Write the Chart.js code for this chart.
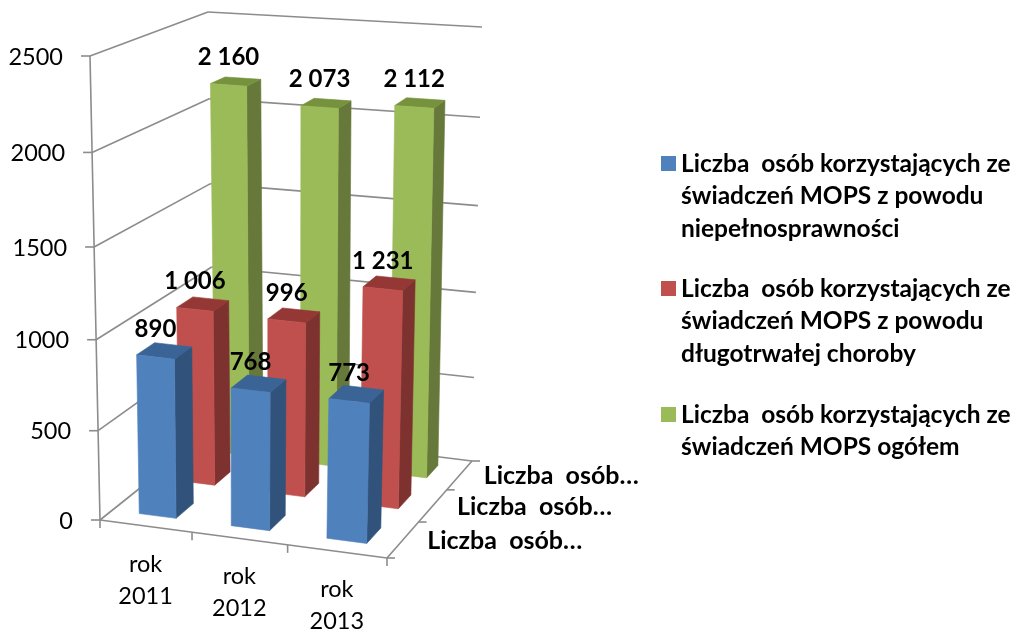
<!DOCTYPE html>
<html>
<head>
<meta charset="utf-8">
<style>html,body{margin:0;padding:0;background:#fff}canvas{display:block}</style>
<script src="https://cdn.jsdelivr.net/npm/chart.js@4/dist/chart.umd.min.js"></script>
</head>
<body>
<canvas id="c" width="1016" height="631"></canvas>
<script>
const categories = [['rok', '2011'], ['rok', '2012'], ['rok', '2013']];
const depthLabels = ['Liczba  osób…', 'Liczba  osób…', 'Liczba  osób…'];
const valueTicks = [0, 500, 1000, 1500, 2000, 2500];
const disabilityValues = [890, 768, 773];
const illnessValues = [1006, 996, 1231];
const totalValues = [2160, 2073, 2112];
const legendLines = [
  ['Liczba  osób korzystających ze', 'świadczeń MOPS z powodu', 'niepełnosprawności'],
  ['Liczba  osób korzystających ze', 'świadczeń MOPS z powodu', 'długotrwałej choroby'],
  ['Liczba  osób korzystających ze', 'świadczeń MOPS ogółem']
];

const FONT = 'Lato, Carlito, sans-serif';
const front = ['#4F81BD', '#C0504D', '#9BBB59'];
const side = ['#31527A', '#7D3230', '#66783A'];
const topFace = ['#3A6496', '#943735', '#76923C'];
const AXIS = '#8c8c8c';

// Projection box of the 3D view: [u][v][w] corner positions on the page.
const box = {
  c000: [100, 520], c100: [387, 558], c010: [90, 56], c110: [399, 84],
  c001: [214, 429], c101: [472, 461], c011: [208, 12], c111: [482, 27]
};
const warp = (t, k) => t * (1 + k) / (1 + k * t);
const lerp = (a, b, t) => [a[0] + (b[0] - a[0]) * t, a[1] + (b[1] - a[1]) * t];
function project(u, v, w) {
  const s = warp(u, -0.056), g = warp(v, -0.047), d = warp(w, 0.18);
  const near = lerp(lerp(box.c000, box.c100, s), lerp(box.c010, box.c110, s), g);
  const far = lerp(lerp(box.c001, box.c101, s), lerp(box.c011, box.c111, s), g);
  return lerp(near, far, d);
}
function poly(ctx, pts, fill) {
  ctx.beginPath();
  pts.forEach((p, i) => i ? ctx.lineTo(p[0], p[1]) : ctx.moveTo(p[0], p[1]));
  ctx.closePath();
  ctx.fillStyle = fill;
  ctx.fill();
  ctx.strokeStyle = fill;
  ctx.lineWidth = 0.6;
  ctx.stroke();
}
function seg(ctx, a, b) {
  ctx.beginPath();
  ctx.moveTo(a[0], a[1]);
  ctx.lineTo(b[0], b[1]);
  ctx.stroke();
}
const spaced = n => String(n).replace(/\B(?=(\d{3})+$)/g, ' ');

const perspective = {
  id: 'perspective',
  beforeDatasetDraw() { return false; },
  beforeDatasetsDraw(chart) {
    const ctx = chart.ctx, sy = chart.scales.y, sx = chart.scales.x, sd = chart.scales.depth;
    const a = chart.chartArea;
    const nv = val => (a.bottom - sy.getPixelForValue(val)) / a.height;
    ctx.save();
    ctx.strokeStyle = AXIS;
    ctx.lineWidth = 1.6;
    // walls and floor
    sy.ticks.forEach(t => {
      const v = nv(t.value);
      const p0 = project(0, v, 0), p1 = project(0, v, 1), p2 = project(1, v, 1);
      seg(ctx, [p0[0] - 9, p0[1]], p0);
      seg(ctx, p0, p1);
      seg(ctx, p1, p2);
    });
    seg(ctx, project(0, 0, 0), project(0, 1, 0));
    seg(ctx, project(0, 0, 0), project(1, 0, 0));
    seg(ctx, project(1, 0, 0), project(1, 0, 1));
    for (let i = 0; i <= categories.length; i++) {
      const p = project(i / categories.length, 0, 0);
      seg(ctx, p, [p[0], p[1] + 8]);
    }
    for (let i = 0; i <= depthLabels.length; i++) {
      const p = project(1, 0, i / depthLabels.length);
      seg(ctx, p, [p[0] + 8, p[1]]);
    }
    // axis text
    ctx.fillStyle = '#000';
    ctx.textBaseline = 'middle';
    ctx.font = '23.5px ' + FONT;
    ctx.textAlign = 'right';
    sy.ticks.forEach(t => {
      const p = project(0, nv(t.value), 0);
      ctx.fillText(String(t.value), p[0] - 27, p[1] + 1);
    });
    ctx.textAlign = 'center';
    categories.forEach((lines, i) => {
      const p = project((sx.getPixelForValue(i) - a.left) / a.width, 0, 0);
      lines.forEach((l, j) => ctx.fillText(l, p[0], p[1] + 38 + j * 32));
    });
    ctx.font = 'bold 25px ' + FONT;
    ctx.textAlign = 'left';
    depthLabels.forEach((l, i) => {
      const p = project(1, 0, (sd.getPixelForValue(i) - a.left) / a.width);
      ctx.fillText(l, p[0] + 24, p[1] + 1);
    });
    ctx.restore();
  },
  afterDatasetsDraw(chart) {
    const ctx = chart.ctx, sd = chart.scales.depth, a = chart.chartArea;
    const labels = [];
    ctx.save();
    for (let ds = chart.data.datasets.length - 1; ds >= 0; ds--) {
      const wc = (sd.getPixelForValue(ds) - a.left) / a.width;
      const dw = 0.4 * sd.width / depthLabels.length / a.width / 2 * 1.08;
      chart.getDatasetMeta(ds).data.forEach((el, i) => {
        const props = el.getProps(['x', 'y', 'base', 'width'], true);
        const u0 = (props.x - props.width / 2 - a.left) / a.width;
        const u1 = (props.x + props.width / 2 - a.left) / a.width;
        const v = (a.bottom - props.y) / a.height;
        const w0 = wc - dw, w1 = wc + dw;
        const P = (uu, vv, ww) => project(uu, vv, ww);
        poly(ctx, [P(u1, 0, w0), P(u1, 0, w1), P(u1, v, w1), P(u1, v, w0)], side[ds]);
        poly(ctx, [P(u0, v, w0), P(u1, v, w0), P(u1, v, w1), P(u0, v, w1)], topFace[ds]);
        poly(ctx, [P(u0, 0, w0), P(u1, 0, w0), P(u1, v, w0), P(u0, v, w0)], front[ds]);
        const c = P((u0 + u1) / 2, v, w0);
        labels.push([spaced(chart.data.datasets[ds].data[i]), c[0], c[1] - 28]);
      });
    }
    ctx.fillStyle = '#000';
    ctx.font = 'bold 24px ' + FONT;
    ctx.textAlign = 'center';
    ctx.textBaseline = 'middle';
    labels.forEach(l => ctx.fillText(l[0], l[1], l[2]));
    // legend
    const rowY = [164, 289, 415];
    ctx.font = 'bold 24.5px ' + FONT;
    ctx.textAlign = 'left';
    legendLines.forEach((lines, i) => {
      ctx.fillStyle = front[i];
      ctx.fillRect(661, rowY[i] - 8, 15, 15);
      ctx.fillStyle = '#000';
      lines.forEach((l, j) => ctx.fillText(l, 681, rowY[i] + j * 32.5));
    });
    ctx.restore();
  }
};

new Chart(document.getElementById('c'), {
  type: 'bar',
  data: {
    labels: categories,
    datasets: [
      { label: legendLines[0].join(' '), data: disabilityValues, backgroundColor: front[0] },
      { label: legendLines[1].join(' '), data: illnessValues, backgroundColor: front[1] },
      { label: legendLines[2].join(' '), data: totalValues, backgroundColor: front[2] }
    ]
  },
  options: {
    responsive: false,
    animation: false,
    layout: { padding: 0 },
    grouped: false,
    barPercentage: 0.405,
    categoryPercentage: 1,
    scales: {
      x: { type: 'category', display: false, offset: true },
      depth: { type: 'category', display: false, labels: depthLabels, offset: true, axis: 'x', position: 'bottom' },
      y: { type: 'linear', display: false, min: 0, max: 2500, afterBuildTicks: s => { s.ticks = valueTicks.map(value => ({ value })); } }
    },
    plugins: { legend: { display: false }, tooltip: { enabled: false } }
  },
  plugins: [perspective]
});
</script>
</body>
</html>
